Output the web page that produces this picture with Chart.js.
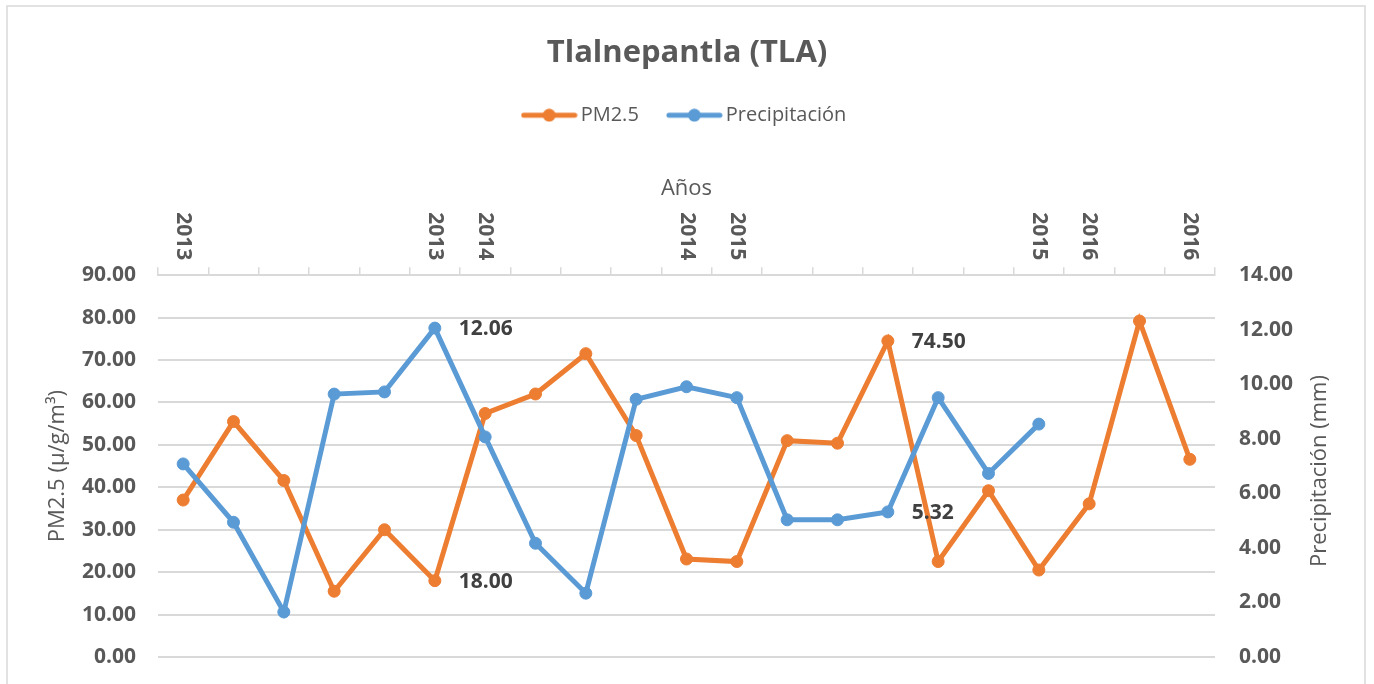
<!DOCTYPE html>
<html>
<head>
<meta charset="utf-8">
<script src="https://cdn.jsdelivr.net/npm/chart.js@4/dist/chart.umd.min.js"></script>
<style>
  body { margin: 0; background: #fff; }
</style>
</head>
<body>
<canvas id="tlaChart" width="1374" height="684"></canvas>
<script>
// categories (only some carry a year label, like the original sheet)
const years = ['2013', '', '', '', '', '2013', '2014', '', '', '', '2014', '2015', '', '', '', '', '', '2015', '2016', '', '2016'];

// PM2.5 (µg/m3), left axis
const pm25 = [37.0, 55.5, 41.6, 15.5, 30.0, 18.0, 57.4, 62.0, 71.5, 52.2, 23.1, 22.5, 51.0, 50.4, 74.5, 22.5, 39.2, 20.5, 36.1, 79.2, 46.6];

// Precipitación (mm), right axis
const precip = [7.08, 4.94, 1.65, 9.64, 9.72, 12.06, 8.07, 4.17, 2.34, 9.45, 9.91, 9.51, 5.03, 5.03, 5.32, 9.51, 6.73, 8.54, null, null, null];

// which points get a value label
const labelled = [
    {ds: 1, idx: 5},
    {ds: 0, idx: 5},
    {ds: 0, idx: 14},
    {ds: 1, idx: 14}
];

const ORANGE = '#ED7D31';
const BLUE = '#5B9BD5';
const TEXT = '#595959';
const GRID = '#d9d9d9';

Chart.defaults.font.family = "'Open Sans', sans-serif";
Chart.defaults.color = TEXT;

// little line-with-dot picture for the legend
function makeMarker(color) {
    let c = document.createElement('canvas');
    c.width = 57;
    c.height = 14;
    let g = c.getContext('2d');
    g.strokeStyle = color;
    g.lineWidth = 5;
    g.lineCap = 'round';
    g.beginPath();
    g.moveTo(3, 7);
    g.lineTo(54, 7);
    g.stroke();
    g.fillStyle = color;
    g.beginPath();
    g.arc(28.5, 7, 6.5, 0, Math.PI * 2);
    g.fill();
    return c;
}

const framePlugin = {
    id: 'frame',
    beforeDraw(chart) {
        let ctx = chart.ctx;
        ctx.save();
        ctx.fillStyle = '#fff';
        ctx.fillRect(0, 0, chart.width, chart.height);
        ctx.strokeStyle = GRID;
        ctx.lineWidth = 1.5;
        ctx.strokeRect(7, 6, 1358, 700);
        ctx.restore();
    }
};

const extrasPlugin = {
    id: 'extras',
    afterDraw(chart) {
        let ctx = chart.ctx;
        let xs = chart.scales.x;
        let area = chart.chartArea;
        ctx.save();

        // year labels on top axis, turned clockwise
        ctx.font = "bold 21px 'Open Sans'";
        ctx.fillStyle = TEXT;
        ctx.textAlign = 'right';
        ctx.textBaseline = 'middle';
        years.forEach((y, i) => {
            if (!y) return;
            let x = xs.getPixelForValue(i);
            ctx.save();
            ctx.translate(x, area.top - 15);
            ctx.rotate(Math.PI / 2);
            ctx.fillText(y, 0, 0);
            ctx.restore();
        });

        // right axis title, reading upward
        ctx.font = "22px 'Open Sans'";
        ctx.textAlign = 'center';
        ctx.save();
        ctx.translate(1320, (area.top + area.bottom) / 2 + 5);
        ctx.rotate(-Math.PI / 2);
        ctx.fillText('Precipitación (mm)', 0, 0);
        ctx.restore();

        // value labels
        ctx.font = "bold 21px 'Open Sans'";
        ctx.fillStyle = '#404040';
        ctx.textAlign = 'left';
        labelled.forEach(l => {
            let pt = chart.getDatasetMeta(l.ds).data[l.idx];
            let v = chart.data.datasets[l.ds].data[l.idx];
            ctx.fillText(v.toFixed(2), pt.x + 24, pt.y + 1);
        });
        ctx.restore();
    }
};

let ctx = document.getElementById('tlaChart').getContext('2d');
let chart = new Chart(ctx, {
    type: 'line',
    data: {
        labels: years,
        datasets: [
            {
                label: 'PM2.5',
                data: pm25,
                yAxisID: 'y',
                borderColor: ORANGE,
                backgroundColor: ORANGE,
                borderWidth: 5,
                pointRadius: 6,
                pointBorderWidth: 1,
                pointBackgroundColor: ORANGE,
                pointBorderColor: ORANGE,
                tension: 0,
                order: 2
            },
            {
                label: 'Precipitación',
                data: precip,
                yAxisID: 'y2',
                borderColor: BLUE,
                backgroundColor: BLUE,
                borderWidth: 5,
                pointRadius: 6,
                pointBorderWidth: 1,
                pointBackgroundColor: BLUE,
                pointBorderColor: BLUE,
                tension: 0,
                order: 1
            }
        ]
    },
    options: {
        responsive: false,
        animation: false,
        layout: { padding: { top: 2, left: 0, right: 0, bottom: 27 } },
        plugins: {
            title: {
                display: true,
                text: 'Tlalnepantla (TLA)',
                color: TEXT,
                font: { size: 31, weight: 'bold' },
                padding: { top: 33, bottom: -1 }
            },
            legend: {
                display: true,
                labels: {
                    usePointStyle: true,
                    pointStyleWidth: 43,
                    color: TEXT,
                    font: { size: 20 },
                    padding: 34,
                    generateLabels: () => [
                        { text: 'PM2.5', pointStyle: makeMarker(ORANGE), fillStyle: ORANGE, strokeStyle: ORANGE, lineWidth: 0, datasetIndex: 0, hidden: false, fontColor: TEXT },
                        { text: 'Precipitación', pointStyle: makeMarker(BLUE), fillStyle: BLUE, strokeStyle: BLUE, lineWidth: 0, datasetIndex: 1, hidden: false, fontColor: TEXT }
                    ]
                }
            },
            tooltip: { enabled: false }
        },
        scales: {
            x: {
                position: 'top',
                offset: true,
                grid: {
                    offset: true,
                    drawOnChartArea: false,
                    drawTicks: true,
                    tickLength: 8,
                    color: GRID,
                    lineWidth: 1.5
                },
                border: { display: true, color: GRID, width: 2 },
                ticks: { display: false },
                title: {
                    display: true,
                    text: 'Años',
                    color: TEXT,
                    font: { size: 22 },
                    padding: { top: 40, bottom: 0 }
                },
                afterFit: s => { s.height = 140; }
            },
            y: {
                position: 'left',
                min: 0,
                max: 90,
                ticks: {
                    stepSize: 10,
                    padding: 0,
                    color: TEXT,
                    font: { size: 21, weight: 'bold' },
                    callback: v => v.toFixed(2)
                },
                grid: { color: GRID, lineWidth: 2, drawTicks: true, tickLength: 22, tickColor: 'rgba(0,0,0,0)' },
                border: { display: false },
                title: {
                    display: true,
                    text: 'PM2.5 (µ/g/m³)',
                    color: TEXT,
                    font: { size: 22 },
                    padding: { top: 45, bottom: 0 }
                },
                afterFit: s => { s.width = 158; }
            },
            y2: {
                position: 'right',
                min: 0,
                max: 14,
                ticks: {
                    stepSize: 2,
                    padding: 0,
                    color: TEXT,
                    font: { size: 21, weight: 'bold' },
                    callback: v => v.toFixed(2)
                },
                grid: { display: true, drawOnChartArea: false, drawTicks: true, tickLength: 24, tickColor: 'rgba(0,0,0,0)' },
                border: { display: false },
                afterFit: s => { s.width = 159; }
            }
        }
    },
    plugins: [framePlugin, extrasPlugin]
});
</script>
</body>
</html>
